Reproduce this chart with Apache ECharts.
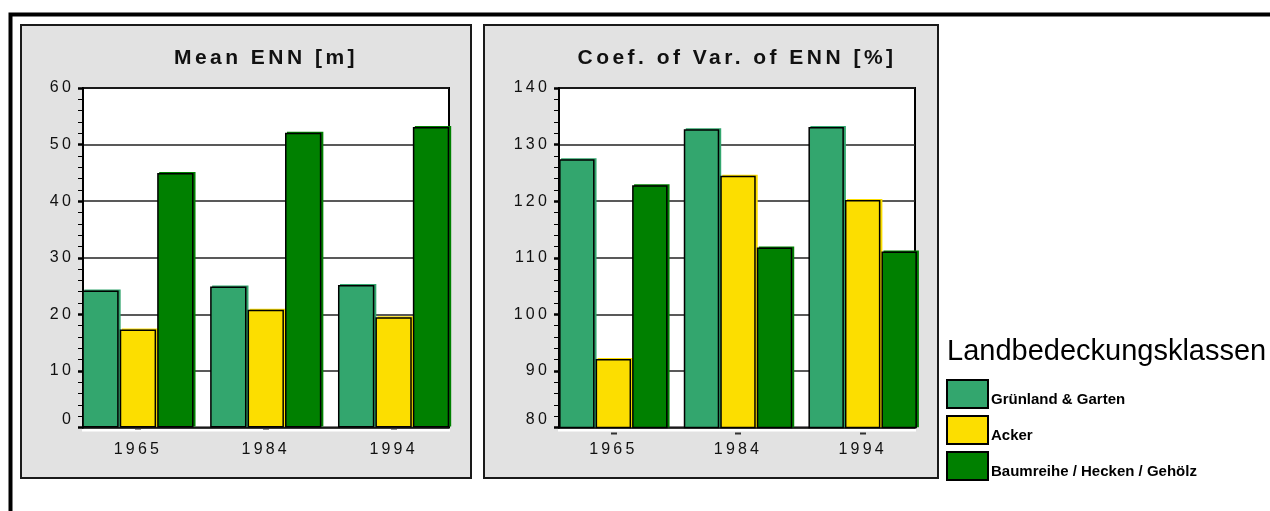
<!DOCTYPE html>
<html>
<head>
<meta charset="UTF-8">
<script type="text/javascript" src="https://cdn.jsdelivr.net/npm/echarts@6/dist/echarts.min.js"></script>
<title>ENN</title>
<style>
	body{margin:0;background:#fff;}
</style>
</head>
<body>
	<div id="main" style="width:1270px;height:511px;"></div>
	<script type="text/javascript">
		var years = ['1965','1984','1994'];
		var classNames = ['Grünland & Garten','Acker','Baumreihe / Hecken / Gehölz'];
		var classColors = ['#33a66e','#fcde00','#008000'];
		// Mean ENN [m]
		var meanGrass = [24.2, 24.9, 25.2];
		var meanAcker = [17.3, 20.8, 19.5];
		var meanHedge = [45.0, 52.1, 53.1];
		// Coef. of Var. of ENN [%]
		var cvGrass = [127.4, 132.7, 133.1];
		var cvAcker = [92.1, 124.5, 120.2];
		var cvHedge = [122.8, 111.8, 111.1];

		// the old chart uses wide letter spacing on titles and axis labels;
		// texts set in 'Liberation Sans' get it, the legend (Arial) does not
		var proto = CanvasRenderingContext2D.prototype;
		var origFillText = proto.fillText;
		proto.fillText = function(t, x, y, w){
			var f = this.font || '';
			if('letterSpacing' in this){
				var m = f.match(/([\d.]+)px/);
				if(f.indexOf('Liberation Sans') >= 0 && m){
					var em = f.indexOf('bold') >= 0 ? 0.165 : 0.2;
					this.letterSpacing = (parseFloat(m[1]) * em).toFixed(2) + 'px';
				}else{
					this.letterSpacing = '0px';
				}
			}
			return w === undefined ? origFillText.call(this, t, x, y) : origFillText.call(this, t, x, y, w);
		};

		var spaced = 'Liberation Sans';

		function frameY(idx, min, max){
			return {
				type:'value', gridIndex:idx, min:min, max:max, interval:10,
				axisLine:{show:true, lineStyle:{color:'#000', width:2}},
				axisTick:{show:true, length:5, lineStyle:{color:'#000', width:2.5}},
				minorTick:{show:true, splitNumber:5, length:5, lineStyle:{color:'#000', width:1}},
				splitLine:{show:true, lineStyle:{color:'#222', width:1.5}},
				axisLabel:{color:'#111', fontSize:16, fontFamily:spaced, margin:9,
					verticalAlignMinLabel:'bottom'}
			};
		}
		function dataY(idx, min, max){
			return {type:'value', gridIndex:idx, min:min, max:max, interval:10, show:false};
		}
		function dataX(idx){
			return {
				type:'category', gridIndex:idx, data:years, offset:5,
				axisLine:{show:false},
				axisTick:{show:true, alignWithLabel:true, length:2, lineStyle:{color:'#333', width:6}},
				axisLabel:{color:'#111', fontSize:16, fontFamily:spaced, margin:9}
			};
		}
		function bars(vals, k, idx){
			return {
				name:classNames[k], type:'bar', xAxisIndex:idx, yAxisIndex:idx,
				data:vals, barCategoryGap:'13%', barGap:'3%',
				itemStyle:{color:classColors[k], borderColor:'#000', borderWidth:1.5,
					shadowColor:classColors[k], shadowOffsetX:2, shadowOffsetY:-1, shadowBlur:0}
			};
		}

		var frameGrid = {show:true, backgroundColor:'#fff', borderColor:'#000', borderWidth:2,
			shadowColor:'#fff', shadowOffsetY:3, shadowBlur:0};

		var myChart = echarts.init(document.getElementById('main'), null, {renderer:'canvas'});
		var option = {
			backgroundColor:'#fff',
			animation:false,
			graphic:[
				{type:'rect', z:-10, shape:{x:10.5, y:14.5, width:1400, height:600},
					style:{fill:'none', stroke:'#000', lineWidth:4}},
				{type:'rect', z:-10, shape:{x:21, y:25, width:450, height:453},
					style:{fill:'#e2e2e2', stroke:'#1a1a1a', lineWidth:2}},
				{type:'rect', z:-10, shape:{x:484, y:25, width:454, height:453},
					style:{fill:'#e2e2e2', stroke:'#1a1a1a', lineWidth:2}}
			],
			title:[
				{text:'Mean ENN [m]', left:261, top:43, textAlign:'center',
					textStyle:{fontFamily:spaced, fontSize:21, fontWeight:'bold', color:'#111'}},
				{text:'Coef. of Var. of ENN [%]', left:732, top:43, textAlign:'center',
					textStyle:{fontFamily:spaced, fontSize:21, fontWeight:'bold', color:'#111'}},
				{text:'Landbedeckungsklassen', left:942, top:332,
					textStyle:{fontFamily:'Arial', fontSize:29, fontWeight:'normal', color:'#000'}}
			],
			legend:{
				orient:'vertical', left:941, top:374,
				itemWidth:41, itemHeight:28, itemGap:6,
				icon:'rect',
				data:classNames,
				formatter:'{a|{name}}',
				itemStyle:{borderColor:'#000', borderWidth:2, shadowBlur:0, shadowOffsetX:0, shadowOffsetY:0, shadowColor:'rgba(0,0,0,0)'},
				textStyle:{fontFamily:'Arial', fontSize:15, fontWeight:'bold', color:'#000',
					rich:{a:{fontFamily:'Arial', fontSize:15, fontWeight:'bold', color:'#000', padding:[12,0,0,-2]}}}
			},
			grid:[
				Object.assign({left:83, width:366, top:88, height:339.5}, frameGrid),
				{left:74, width:383.5, top:88, height:339.5},
				Object.assign({left:559, width:356, top:88, height:339.5}, frameGrid),
				{left:551, width:374, top:88, height:339.5}
			],
			xAxis:[
				{type:'value', gridIndex:0, show:false},
				dataX(1),
				{type:'value', gridIndex:2, show:false},
				dataX(3)
			],
			yAxis:[
				frameY(0, 0, 60),
				dataY(1, 0, 60),
				frameY(2, 80, 140),
				dataY(3, 80, 140)
			],
			series:[
				bars(meanGrass, 0, 1),
				bars(meanAcker, 1, 1),
				bars(meanHedge, 2, 1),
				bars(cvGrass, 0, 3),
				bars(cvAcker, 1, 3),
				bars(cvHedge, 2, 3)
			]
		};
		myChart.setOption(option);
	</script>
</body>
</html>
